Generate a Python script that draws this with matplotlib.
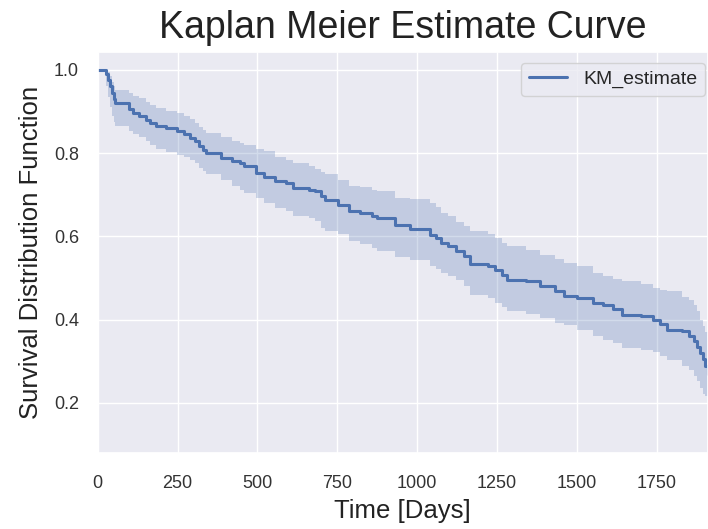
import matplotlib
matplotlib.use("Agg")
import matplotlib.pyplot as plt
import seaborn as sns

# Kaplan-Meier step data
times = [0, 25, 32, 38, 44, 50, 55, 97, 110, 130,
         150, 165, 184, 215, 247, 270, 290, 305, 318, 328,
         338, 385, 420, 445, 458, 494, 520, 555, 590, 612,
         660, 680, 700, 712, 752, 785, 820, 860, 875, 930,
         978, 1040, 1060, 1075, 1095, 1120, 1145, 1165, 1220, 1243,
         1265, 1282, 1340, 1385, 1432, 1458, 1500, 1550, 1580, 1612,
         1640, 1700, 1738, 1760, 1782, 1830, 1850, 1865, 1876, 1886,
         1895, 1902, 1910]
survival = [1.0, 0.99, 0.975, 0.96, 0.945, 0.93, 0.92, 0.905, 0.895, 0.89,
            0.88, 0.872, 0.864, 0.86, 0.852, 0.846, 0.837, 0.828, 0.818, 0.808,
            0.80, 0.789, 0.782, 0.775, 0.768, 0.753, 0.742, 0.732, 0.728, 0.716,
            0.712, 0.708, 0.698, 0.688, 0.676, 0.66, 0.657, 0.65, 0.645, 0.628,
            0.617, 0.604, 0.595, 0.585, 0.578, 0.564, 0.552, 0.534, 0.53, 0.52,
            0.508, 0.496, 0.492, 0.48, 0.468, 0.456, 0.452, 0.44, 0.435, 0.425,
            0.412, 0.41, 0.40, 0.39, 0.376, 0.372, 0.36, 0.348, 0.335, 0.32,
            0.305, 0.29, 0.27]
ci_upper = [1.0, 1.0, 0.995, 0.985, 0.97, 0.96, 0.952, 0.945, 0.938, 0.932,
            0.922, 0.915, 0.908, 0.902, 0.897, 0.89, 0.882, 0.872, 0.862, 0.855,
            0.848, 0.838, 0.83, 0.825, 0.82, 0.81, 0.804, 0.79, 0.783, 0.777,
            0.768, 0.762, 0.755, 0.75, 0.736, 0.722, 0.718, 0.712, 0.708, 0.693,
            0.69, 0.68, 0.67, 0.657, 0.65, 0.635, 0.625, 0.612, 0.605, 0.596,
            0.585, 0.576, 0.568, 0.556, 0.545, 0.536, 0.528, 0.512, 0.505, 0.498,
            0.492, 0.485, 0.476, 0.472, 0.468, 0.455, 0.448, 0.435, 0.42, 0.40,
            0.385, 0.37, 0.368]
ci_lower = [1.0, 0.96, 0.935, 0.91, 0.89, 0.875, 0.865, 0.852, 0.845, 0.838,
            0.83, 0.82, 0.81, 0.803, 0.796, 0.79, 0.784, 0.775, 0.765, 0.757,
            0.75, 0.735, 0.722, 0.712, 0.705, 0.692, 0.68, 0.668, 0.66, 0.648,
            0.643, 0.636, 0.62, 0.612, 0.605, 0.59, 0.582, 0.572, 0.564, 0.55,
            0.544, 0.53, 0.522, 0.512, 0.505, 0.495, 0.48, 0.46, 0.452, 0.44,
            0.43, 0.42, 0.413, 0.405, 0.392, 0.388, 0.375, 0.36, 0.352, 0.343,
            0.333, 0.328, 0.322, 0.312, 0.304, 0.29, 0.28, 0.265, 0.252, 0.235,
            0.222, 0.216, 0.216]

sns.set_theme(style="darkgrid")
plt.rcParams['font.family'] = ['Liberation Sans', 'DejaVu Sans']

fig = plt.figure(figsize=(7.08, 5.29), dpi=100)
ax = fig.add_axes([0.138, 0.1437, 0.862, 0.7583])

color = "#4C72B0"
ax.fill_between(times, ci_lower, ci_upper, step="post", color=color,
                alpha=0.25, linewidth=0)
ax.plot(times, survival, drawstyle="steps-post", color=color, lw=2.2,
        label="KM_estimate")

ax.set_xlim(0, 1910)
ax.set_ylim(0.08, 1.043)
ax.set_xticks([0, 250, 500, 750, 1000, 1250, 1500, 1750])
ax.set_yticks([0.2, 0.4, 0.6, 0.8, 1.0])
ax.tick_params(axis="x", labelsize=13, colors="#333333", pad=10)
ax.tick_params(axis="y", labelsize=13, colors="#333333", pad=7.5)
ax.set_title("Kaplan Meier Estimate Curve", fontsize=27, color="#222222", pad=10)
ax.set_xlabel("Time [Days]", fontsize=18.5, color="#222222", labelpad=5)
ax.set_ylabel("Survival Distribution Function", fontsize=18.5, color="#222222",
              labelpad=8)
ax.legend(loc="upper right", fontsize=14, bbox_to_anchor=(0.995, 0.9726),
          borderaxespad=0)

fig.savefig("out.png", dpi=100)
